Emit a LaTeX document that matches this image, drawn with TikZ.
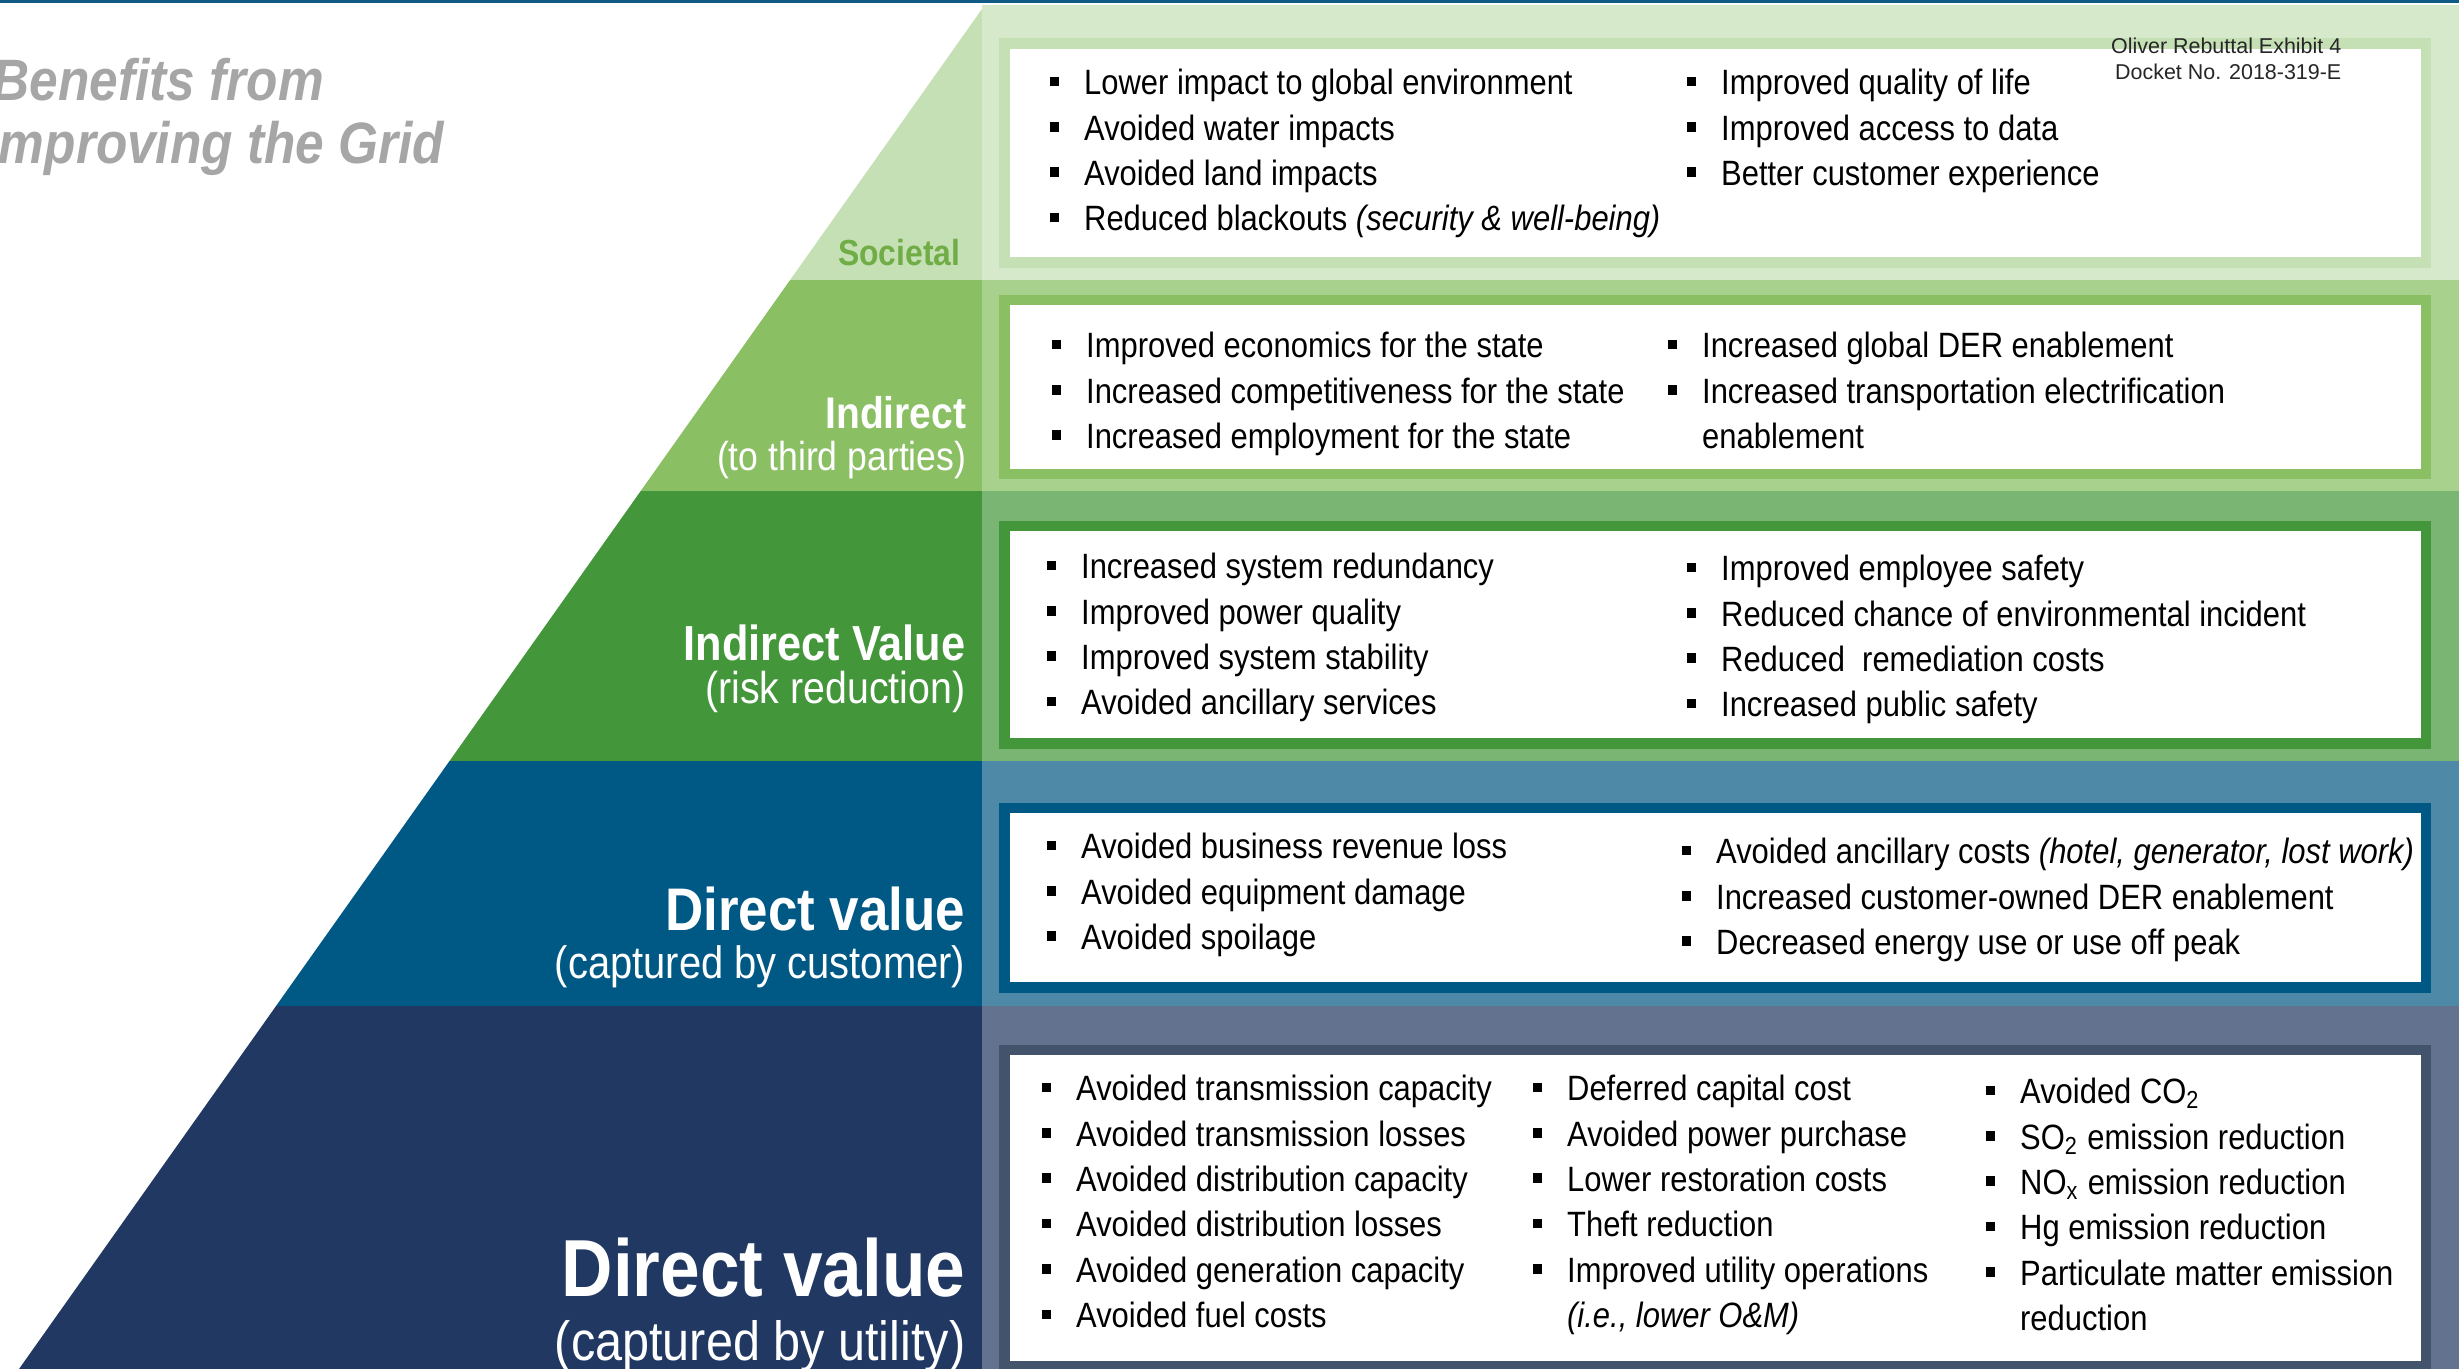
\documentclass[tikz,border=0pt]{standalone}
\usepackage{fontspec}
\setmainfont{Liberation Sans}[FakeStretch=0.88]
\newfontfamily\exhfont{Liberation Sans}
\usepackage{tikz}

\definecolor{socdark}{RGB}{197,224,180}
\definecolor{soclight}{RGB}{214,233,203}
\definecolor{socgreen}{RGB}{112,173,71}
\definecolor{inddark}{RGB}{139,191,99}
\definecolor{indlight}{RGB}{169,209,142}
\definecolor{ivdark}{RGB}{67,150,58}
\definecolor{ivlight}{RGB}{122,181,115}
\definecolor{custdark}{RGB}{0,88,133}
\definecolor{custlight}{RGB}{78,138,168}
\definecolor{utildark}{RGB}{33,56,99}
\definecolor{utillight}{RGB}{98,114,143}
\definecolor{utilframe}{RGB}{68,83,108}
\definecolor{titlegray}{RGB}{166,166,166}
\definecolor{topline}{RGB}{16,90,133}

% square bullet, and the same gap without it
\newcommand{\bl}{\makebox[9.8pt][l]{\rule[2.4pt]{2.7pt}{2.7pt}}}
\newcommand{\nobl}{\makebox[9.8pt]{}}
% fixed height for the first line of a list
\newcommand{\fs}{\rule{0pt}{8pt}}

\begin{document}
\begin{tikzpicture}[x=0.01cm, y=-0.01cm,
  panel/.style={line width=3pt, fill=white},
  items/.style={anchor=north west, inner sep=0pt, align=left,
    font=\fontsize{10}{12.9}\selectfont},
  lab/.style={anchor=base east, inner sep=0pt, text=white}]
\useasboundingbox (0,0) rectangle (2459,1369);
\fill[topline] (0,0) rectangle (2459,2.5);

% bands on the right
\fill[soclight] (982,5) rectangle (2459,280);
\fill[indlight] (982,280) rectangle (2459,491);
\fill[ivlight] (982,491) rectangle (2459,761);
\fill[custlight] (982,761) rectangle (2459,1006);
\fill[utillight] (982,1006) rectangle (2459,1369);

% pyramid
\begin{scope}
\clip (982,9) -- (982,1369) -- (19,1369) -- cycle;
\fill[socdark] (0,0) rectangle (982,280);
\fill[inddark] (0,280) rectangle (982,491);
\fill[ivdark] (0,491) rectangle (982,761);
\fill[custdark] (0,761) rectangle (982,1006);
\fill[utildark] (0,1006) rectangle (982,1369);
\end{scope}

% framed boxes
\draw[panel, draw=socdark] (1004.5,43.5) rectangle (2426,262.5);
\draw[panel, draw=inddark] (1004.5,300) rectangle (2426,474);
\draw[panel, draw=ivdark] (1004.5,526) rectangle (2426,743.5);
\draw[panel, draw=custdark] (1004.5,808) rectangle (2426,987.5);
\draw[panel, draw=utilframe] (1004.5,1050) rectangle (2426,1366);

% title
\node[anchor=base west, inner sep=0pt, text=titlegray,
  font=\fontsize{16.6}{20}\selectfont\bfseries\itshape] (title1) at (-8,100) {Benefits from};
\node[anchor=base west, inner sep=0pt, text=titlegray,
  font=\fontsize{16.6}{20}\selectfont\bfseries\itshape] (title2) at (-16,163) {Improving the Grid};

\node[anchor=base east, inner sep=0pt, text=black!85,
  font=\exhfont\fontsize{6.1}{7.4}\selectfont] (exh1) at (2342,53) {Oliver Rebuttal Exhibit 4};
\node[anchor=base east, inner sep=0pt, text=black!85,
  font=\exhfont\fontsize{6.1}{7.4}\selectfont] (exh2) at (2342,79) {Docket No. 2018-319-E};

% pyramid labels
\node[lab, text=socgreen, font=\fontsize{10.3}{12}\selectfont\bfseries] (soc) at (961,265) {Societal};
\node[lab, font=\fontsize{12.6}{15}\selectfont\bfseries] (ind) at (967,428) {Indirect};
\node[lab, font=\fontsize{11.5}{14}\selectfont] (ind-sub) at (967,470) {(to third parties)};
\node[lab, font=\fontsize{14}{17}\selectfont\bfseries] (iv) at (966,660) {Indirect Value};
\node[lab, font=\fontsize{12.7}{15}\selectfont] (iv-sub) at (966,703) {(risk reduction)};
\node[lab, font=\fontsize{17.1}{20}\selectfont\bfseries] (cust) at (966,930) {Direct value};
\node[lab, font=\fontsize{12.9}{15}\selectfont] (cust-sub) at (966,978) {(captured by customer)};
\node[lab, font=\fontsize{23}{27}\selectfont\bfseries] (util) at (966,1296) {Direct value};
\node[lab, font=\fontsize{15.7}{19}\selectfont] (util-sub) at (966,1360) {(captured by utility)};

% societal
\node[items] (soc-l) at (1049,65.8) {\fs\bl Lower impact to global environment\\
  \bl Avoided water impacts\\
  \bl Avoided land impacts\\
  \bl Reduced blackouts \textit{(security \& well-being)}};
\node[items] (soc-r) at (1686,65.8) {\fs\bl Improved quality of life\\
  \bl Improved access to data\\
  \bl Better customer experience};

% indirect
\node[items] (ind-l) at (1051,328.8) {\fs\bl Improved economics for the state\\
  \bl Increased competitiveness for the state\\
  \bl Increased employment for the state};
\node[items] (ind-r) at (1667,328.8) {\fs\bl Increased global DER enablement\\
  \bl Increased transportation electrification\\
  \nobl enablement};

% indirect value
\node[items] (iv-l) at (1046,549.8) {\fs\bl Increased system redundancy\\
  \bl Improved power quality\\
  \bl Improved system stability\\
  \bl Avoided ancillary services};
\node[items] (iv-r) at (1686,551.8) {\fs\bl Improved employee safety\\
  \bl Reduced chance of environmental incident\\
  \bl Reduced\ \ remediation costs\\
  \bl Increased public safety};

% direct, customer
\node[items] (cust-l) at (1046,829.8) {\fs\bl Avoided business revenue loss\\
  \bl Avoided equipment damage\\
  \bl Avoided spoilage};
\node[items] (cust-r) at (1681,834.8) {\fs\bl Avoided ancillary costs \textit{(hotel, generator, lost work)}\\
  \bl Increased customer-owned DER enablement\\
  \bl Decreased energy use or use off peak};

% direct, utility
\node[items] (util-a) at (1041,1071.8) {\fs\bl Avoided transmission capacity\\
  \bl Avoided transmission losses\\
  \bl Avoided distribution capacity\\
  \bl Avoided distribution losses\\
  \bl Avoided generation capacity\\
  \bl Avoided fuel costs};
\node[items] (util-b) at (1532,1071.8) {\fs\bl Deferred capital cost\\
  \bl Avoided power purchase\\
  \bl Lower restoration costs\\
  \bl Theft reduction\\
  \bl Improved utility operations\\
  \nobl\textit{(i.e., lower O\&M)}};
\node[items] (util-c) at (1985,1074.8) {\fs\bl Avoided CO\textsubscript{2}\\
  \bl SO\textsubscript{2} emission reduction\\
  \bl NO\textsubscript{x} emission reduction\\
  \bl Hg emission reduction\\
  \bl Particulate matter emission\\
  \nobl reduction};
\end{tikzpicture}
\end{document}
